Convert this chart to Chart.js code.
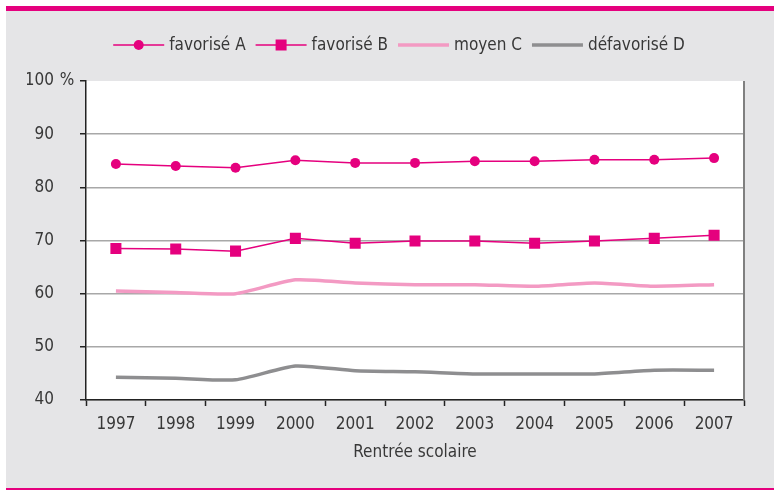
<!DOCTYPE html>
<html>
<head>
<meta charset="utf-8">
<script src="https://cdn.jsdelivr.net/npm/chart.js@4.4.1/dist/chart.umd.min.js"></script>
<style>
  html, body { margin: 0; padding: 0; background: #fff; }
  #wrap { width: 777px; height: 492px; position: relative; }
</style>
</head>
<body>
<div id="wrap"><canvas id="lineChart" width="777" height="492"></canvas></div>
<script>
const years = ["1997", "1998", "1999", "2000", "2001", "2002", "2003", "2004", "2005", "2006", "2007"];

const favoriseA = [84.4, 84.0, 83.7, 85.1, 84.6, 84.6, 84.9, 84.9, 85.2, 85.2, 85.5];
const favoriseB = [68.5, 68.4, 68.0, 70.4, 69.5, 69.9, 69.9, 69.5, 69.9, 70.4, 71.0];
const moyenC = [60.5, 60.2, 60.0, 62.6, 62.0, 61.7, 61.7, 61.4, 62.0, 61.4, 61.7];
const defavoriseD = [44.3, 44.1, 43.8, 46.4, 45.5, 45.3, 44.9, 44.9, 44.9, 45.6, 45.6];

const magenta = "#e5007e";
const pink = "#f39ac3";
const grey = "#8e8e90";
const textColor = "#383838";
const fontName = "'Liberation Sans Narrow', 'DejaVu Sans Condensed', sans-serif";
const fontSize = 17;

// fond, cadre et zone du graphique
const framePlugin = {
    id: "frame",
    beforeDraw(chart) {
        const c = chart.ctx;
        const area = chart.chartArea;
        c.save();
        c.fillStyle = "#ffffff";
        c.fillRect(0, 0, chart.width, chart.height);
        c.fillStyle = "#e5e5e7";
        c.fillRect(6, 11, 768, 478);
        c.fillStyle = magenta;
        c.fillRect(6, 6, 768, 5);
        c.fillRect(6, 488, 768, 2);
        c.fillStyle = "#ffffff";
        c.fillRect(area.left, area.top, area.right - area.left, area.bottom - area.top);
        c.restore();
    },
    afterDraw(chart) {
        const c = chart.ctx;
        const area = chart.chartArea;
        const y = chart.scales.y;
        c.save();
        // bord droit
        c.strokeStyle = "#808080";
        c.lineWidth = 2;
        c.beginPath();
        c.moveTo(area.right, area.top);
        c.lineTo(area.right, area.bottom);
        c.stroke();
        // " %" après 100
        c.font = fontSize + "px " + fontName;
        c.fillStyle = textColor;
        c.textBaseline = "middle";
        c.textAlign = "left";
        c.fillText(" %", 55, y.getPixelForValue(100));

        // légende
        const items = chart.data.datasets;
        const lineLen = 51;
        const gap = 5;
        const after = 10;
        let total = 0;
        const widths = items.map(ds => c.measureText(ds.label).width);
        widths.forEach(w => total += lineLen + gap + w + after);
        total -= after;
        let x = 399 - total / 2;
        const ly = 45;
        items.forEach((ds, i) => {
            c.strokeStyle = ds.borderColor;
            c.lineWidth = ds.borderWidth;
            c.beginPath();
            c.moveTo(x, ly);
            c.lineTo(x + lineLen, ly);
            c.stroke();
            c.fillStyle = ds.borderColor;
            if (ds.pointStyle === "circle") {
                c.beginPath();
                c.arc(x + lineLen / 2, ly, 5, 0, Math.PI * 2);
                c.fill();
            } else if (ds.pointStyle === "rect") {
                c.fillRect(x + lineLen / 2 - 5.5, ly - 5.5, 11, 11);
            }
            c.fillStyle = textColor;
            c.fillText(ds.label, x + lineLen + gap, ly + 1);
            x += lineLen + gap + widths[i] + after;
        });
        c.restore();
    }
};

const ctx = document.getElementById("lineChart");

new Chart(ctx, {
    type: "line",
    data: {
        labels: years,
        datasets: [
            {
                label: "favorisé A",
                data: favoriseA,
                borderColor: magenta,
                backgroundColor: magenta,
                borderWidth: 1.5,
                pointStyle: "circle",
                pointRadius: 5,
                pointBorderWidth: 0
            },
            {
                label: "favorisé B",
                data: favoriseB,
                borderColor: magenta,
                backgroundColor: magenta,
                borderWidth: 1.5,
                pointStyle: "rect",
                pointRadius: 7.8,
                pointBorderWidth: 0
            },
            {
                label: "moyen C",
                data: moyenC,
                borderColor: pink,
                backgroundColor: pink,
                borderWidth: 3.5,
                pointRadius: 0,
                tension: 0.2
            },
            {
                label: "défavorisé D",
                data: defavoriseD,
                borderColor: grey,
                backgroundColor: grey,
                borderWidth: 3.5,
                pointRadius: 0,
                tension: 0.2
            }
        ]
    },
    options: {
        responsive: false,
        animation: false,
        layout: {
            padding: { left: 27, right: 33, top: 81, bottom: 22 }
        },
        plugins: {
            legend: { display: false },
            tooltip: { enabled: false }
        },
        scales: {
            x: {
                offset: true,
                afterFit: s => { s.height = 70; },
                grid: {
                    offset: true,
                    drawOnChartArea: false,
                    drawTicks: true,
                    tickLength: 6,
                    tickColor: "#222",
                    tickWidth: 1.5
                },
                border: { color: "#222", width: 1.5 },
                ticks: {
                    color: textColor,
                    font: { family: fontName, size: fontSize },
                    padding: 8,
                    maxRotation: 0
                },
                title: {
                    display: true,
                    text: "Rentrée scolaire",
                    color: textColor,
                    font: { family: fontName, size: fontSize },
                    padding: { top: 0, bottom: 7 }
                }
            },
            y: {
                min: 40,
                max: 100,
                afterFit: s => { s.width = 59; },
                ticks: {
                    stepSize: 10,
                    color: textColor,
                    font: { family: fontName, size: fontSize },
                    padding: 26
                },
                grid: {
                    color: ctx => ctx.tick && ctx.tick.value === 100 ? "rgba(0,0,0,0)" : "#a8a8a8",
                    lineWidth: 1.5,
                    drawTicks: true,
                    tickLength: 6,
                    tickColor: "#222",
                    tickWidth: 1.5
                },
                border: { color: "#222", width: 1.5 }
            }
        }
    },
    plugins: [framePlugin]
});
</script>
</body>
</html>
